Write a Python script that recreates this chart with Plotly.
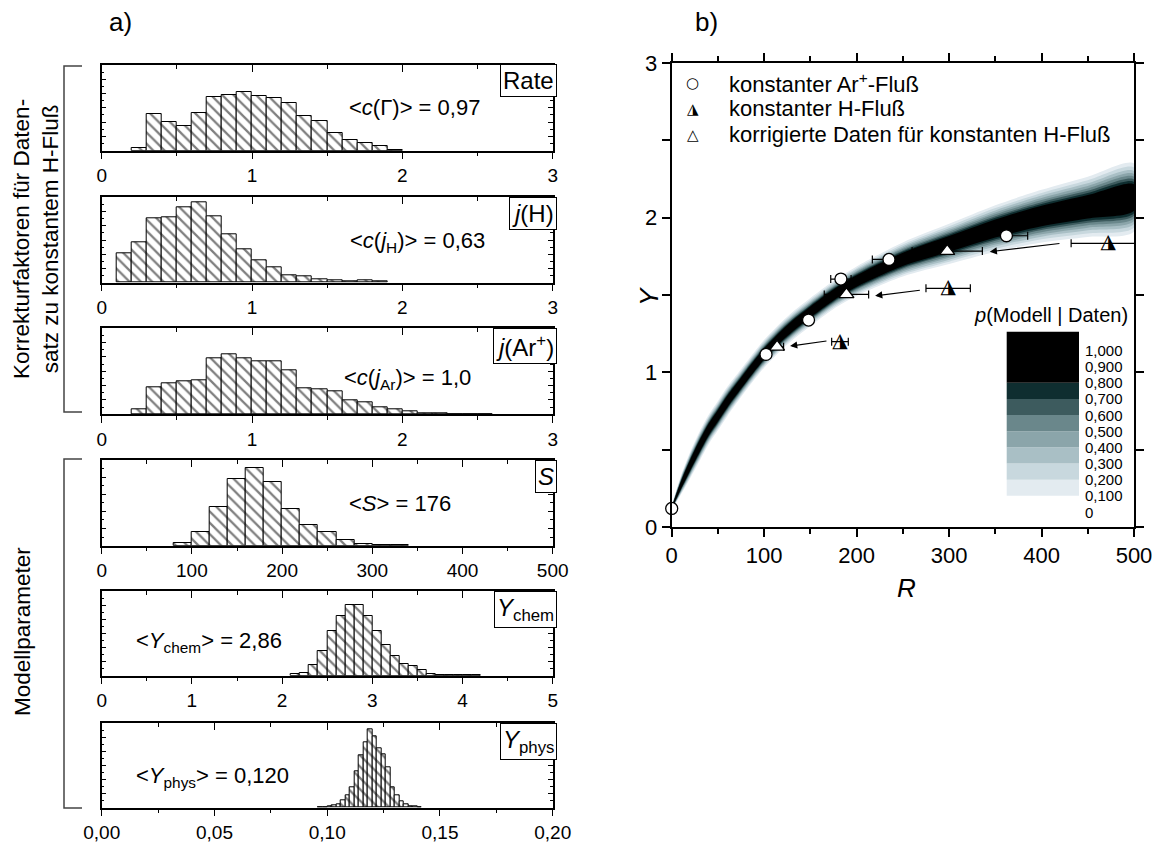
import numpy as np
import plotly.graph_objects as go

W, H = 1160, 842
FONT = "Liberation Sans, Arial, sans-serif"

# ---------------- data: histograms (bin left edges, counts in arbitrary units) ----------------
rate_bins = np.round(np.arange(0.2, 1.95, 0.1), 3)
rate_counts = [7, 109, 87, 75, 113, 161, 166, 175, 163, 159, 142, 103, 90, 54, 33, 22, 13, 1]

jh_bins = np.round(np.arange(0.1, 1.85, 0.1), 3)
jh_counts = [87, 122, 194, 196, 225, 241, 198, 146, 100, 68, 46, 22, 20, 11, 7, 4, 6, 3]

jar_bins = np.round(np.arange(0.2, 2.55, 0.1), 3)
jar_counts = [15, 80, 94, 98, 102, 169, 181, 168, 159, 159, 131, 79, 74, 70, 42, 36, 22, 16, 9, 4, 2, 1, 1, 1]

s_bins = np.arange(80, 330, 20)
s_counts = [9, 40, 117, 201, 233, 190, 111, 61, 40, 17, 4, 2, 2]

ychem_bins = np.round(np.arange(2.1, 4.15, 0.1), 3)
ychem_counts = [4, 7, 31, 73, 133, 179, 211, 211, 179, 134, 92, 60, 36, 28, 17, 4, 2, 1, 1, 2, 1]

yphys_bins = np.round(np.arange(0.096, 0.1405, 0.002), 4)
yphys_counts = [1, 2, 4, 6, 10, 21, 37, 61, 110, 156, 197, 235, 215, 178, 160, 122, 62, 37, 20, 9, 5, 3, 1]

# ---------------- data: right panel ----------------
circ_R = [0, 102, 148, 183, 235, 362]
circ_Y = [0.12, 1.116, 1.338, 1.603, 1.730, 1.883]
circ_err = [0, 5, 5, 11, 18, 23]

half_R = [182, 299, 472]
half_Y = [1.198, 1.543, 1.834]
half_err = [9, 24, 40]

corr_R = [114, 189, 298]
corr_Y = [1.165, 1.504, 1.784]
corr_err = [7, 24, 38]

arrow_tail_R = [169, 270, 421]
arrow_tail_Y = [1.204, 1.532, 1.834]
arrow_head_R = [128, 220, 344]
arrow_head_Y = [1.170, 1.495, 1.780]

band_R = [0, 10, 20, 30, 40, 50, 60, 75, 100, 125, 150, 175, 200, 250, 300, 350, 400, 450, 500]
band_mid = [0.12, 0.27, 0.40, 0.52, 0.63, 0.72, 0.81, 0.93, 1.12, 1.27, 1.39, 1.50, 1.59, 1.73, 1.83, 1.93, 2.01, 2.07, 2.13]
band_half = [0.0, 0.06, 0.085, 0.095, 0.095, 0.095, 0.095, 0.09, 0.09, 0.09, 0.09, 0.09, 0.095, 0.11, 0.13, 0.15, 0.17, 0.195, 0.22]

prob_levels = [0.1, 0.2, 0.3, 0.4, 0.5, 0.6, 0.7, 0.8]
cb_tick_values = [1.0, 0.9, 0.8, 0.7, 0.6, 0.5, 0.4, 0.3, 0.2, 0.1, 0.0]
cb_tick_labels = ["1,000", "0,900", "0,800", "0,700", "0,600", "0,500", "0,400", "0,300", "0,200", "0,100", "0"]

# ---------------- styles ----------------
level_colors = ["#e3ebf0", "#c8d8de", "#a9bfc5", "#8ba5aa", "#6a878b", "#3d5b5e", "#0f2e30", "#000000"]
level_fracs = [1.0, 0.88, 0.78, 0.69, 0.61, 0.53, 0.46, 0.39]


def fx(p):
    return p / W


def fy(p):
    return 1 - p / H


fig = go.Figure()
layout = dict(
    width=W, height=H, margin=dict(l=0, r=0, t=0, b=0, pad=0, autoexpand=False),
    paper_bgcolor="white", plot_bgcolor="white",
    font=dict(family=FONT, color="black"),
    separators=", ", showlegend=False, bargap=0,
)

XL0, XL1 = 101.7, 552.7
panels = [
    dict(bins=rate_bins, counts=rate_counts, w=0.1, xr=[0, 3], dt=1, mdt=0.5, fmt="", top=65, bot=150.7, ymax=257, ny=12),
    dict(bins=jh_bins, counts=jh_counts, w=0.1, xr=[0, 3], dt=1, mdt=0.5, fmt="", top=197.3, bot=282.7, ymax=256, ny=12),
    dict(bins=jar_bins, counts=jar_counts, w=0.1, xr=[0, 3], dt=1, mdt=0.5, fmt="", top=328.3, bot=414.3, ymax=258, ny=12),
    dict(bins=s_bins, counts=s_counts, w=20, xr=[0, 500], dt=100, mdt=50, fmt="", top=460, bot=545.7, ymax=257, ny=10),
    dict(bins=ychem_bins, counts=ychem_counts, w=0.1, xr=[0, 5], dt=1, mdt=0.5, fmt="", top=591, bot=675.7, ymax=254, ny=12),
    dict(bins=yphys_bins, counts=yphys_counts, w=0.002, xr=[0, 0.2], dt=0.05, mdt=0.025, fmt=".2f", top=723.3, bot=807.7, ymax=253, ny=12),
]

for i, p in enumerate(panels, start=1):
    s = "" if i == 1 else str(i)
    fig.add_trace(go.Bar(
        x=p["bins"], y=p["counts"], width=p["w"], offset=0,
        xaxis="x" + s, yaxis="y" + s,
        marker=dict(color="white", line=dict(color="black", width=1),
                    pattern=dict(shape="\\", fgcolor="black", bgcolor="white", size=8, solidity=0.28)),
        hoverinfo="skip",
    ))
    layout["xaxis" + s] = dict(
        domain=[fx(XL0), fx(XL1)], anchor="y" + s, range=p["xr"], dtick=p["dt"], tick0=0,
        ticks="outside", ticklen=7, tickwidth=1.2, tickcolor="black",
        minor=dict(dtick=p["mdt"], tick0=0, ticks="outside", ticklen=4, tickwidth=1.2, tickcolor="black"),
        showline=True, linecolor="black", linewidth=1.5, mirror=True,
        showgrid=False, zeroline=False, tickformat=p["fmt"], automargin=False,
        tickfont=dict(size=19, family=FONT, color="black"),
    )
    layout["yaxis" + s] = dict(
        domain=[fy(p["bot"]), fy(p["top"])], anchor="x" + s, range=[0, p["ymax"]],
        showticklabels=False, ticks="inside", ticklen=5, tickwidth=1, tickcolor="black",
        tick0=0, dtick=p["ymax"] / p["ny"] * 2, automargin=False,
        minor=dict(dtick=p["ymax"] / p["ny"], ticks="inside", ticklen=3, tickwidth=1, tickcolor="black"),
        showline=True, linecolor="black", linewidth=1.5, mirror="ticks",
        showgrid=False, zeroline=False,
    )
    # top axis with inward ticks
    t = str(7 + i)
    layout["xaxis" + t] = dict(
        overlaying="x" + s, side="top", anchor="y" + s, range=p["xr"], dtick=p["dt"], tick0=0,
        ticks="inside", ticklen=7, tickwidth=1.2, tickcolor="black", automargin=False,
        minor=dict(dtick=p["mdt"], tick0=0, ticks="inside", ticklen=4, tickwidth=1.2, tickcolor="black"),
        showticklabels=False, showline=False, showgrid=False, zeroline=False,
    )
    fig.add_trace(go.Scatter(x=[None], y=[None], xaxis="x" + t, yaxis="y" + s, hoverinfo="skip"))

# ---------------- right panel ----------------
mid = np.array(band_mid)
half = np.array(band_half)
for frac, col in zip(level_fracs, level_colors):
    up = mid + frac * half
    lo = mid - frac * half
    fig.add_trace(go.Scatter(
        x=list(band_R) + list(band_R[::-1]), y=list(up) + list(lo[::-1]),
        fill="toself", fillcolor=col, mode="lines",
        line=dict(width=0, color=col, shape="spline", smoothing=0.8),
        xaxis="x7", yaxis="y7", hoverinfo="skip",
    ))

err_style = dict(type="data", color="black", thickness=1.2, width=4)
fig.add_trace(go.Scatter(
    x=half_R, y=half_Y, mode="markers", marker=dict(size=12, color="rgba(0,0,0,0)"),
    error_x=dict(array=half_err, **err_style), xaxis="x7", yaxis="y7", hoverinfo="skip", cliponaxis=False,
))
fig.add_trace(go.Scatter(
    x=half_R, y=half_Y, mode="text", text=["◮"] * len(half_R), textposition="middle center",
    textfont=dict(family="DejaVu Sans", size=20, color="black"),
    xaxis="x7", yaxis="y7", hoverinfo="skip", cliponaxis=False,
))
fig.add_trace(go.Scatter(
    x=corr_R, y=corr_Y, mode="markers",
    marker=dict(symbol="triangle-up", size=13, color="white", line=dict(color="black", width=1.3)),
    error_x=dict(array=corr_err, **err_style), xaxis="x7", yaxis="y7", hoverinfo="skip",
))
fig.add_trace(go.Scatter(
    x=circ_R, y=circ_Y, mode="markers",
    marker=dict(symbol="circle", size=12, color="white", line=dict(color="black", width=1.3)),
    error_x=dict(array=circ_err, **err_style), xaxis="x7", yaxis="y7", hoverinfo="skip", cliponaxis=False,
))

layout["xaxis7"] = dict(
    domain=[fx(671.7), fx(1134)], anchor="y7", range=[0, 500], dtick=100, tick0=0,
    ticks="outside", ticklen=8, tickwidth=2, tickcolor="black", automargin=False,
    minor=dict(dtick=50, ticks="outside", ticklen=5, tickwidth=2, tickcolor="black"),
    showline=True, linecolor="black", linewidth=2, mirror="ticks",
    showgrid=False, zeroline=False, tickfont=dict(size=22, family=FONT, color="black"),
)
layout["yaxis7"] = dict(
    domain=[fy(527), fy(63)], anchor="x7", range=[0, 3], dtick=1, tick0=0,
    ticks="outside", ticklen=8, tickwidth=2, tickcolor="black", automargin=False,
    minor=dict(dtick=0.5, ticks="outside", ticklen=8, tickwidth=2, tickcolor="black"),
    showline=True, linecolor="black", linewidth=2, mirror="ticks",
    showgrid=False, zeroline=False, tickfont=dict(size=22, family=FONT, color="black"),
)

annotations = []
shapes = []


def txt(x, y, text, size, xanchor="center", yanchor="middle", **kw):
    d = dict(x=fx(x), y=fy(y), xref="paper", yref="paper", text=text, showarrow=False,
             xanchor=xanchor, yanchor=yanchor, font=dict(size=size, family=kw.pop("family", FONT), color="black"))
    d.update(kw)
    annotations.append(d)


# arrows
for tr, ty, hr, hy in zip(arrow_tail_R, arrow_tail_Y, arrow_head_R, arrow_head_Y):
    annotations.append(dict(x=hr, y=hy, ax=tr, ay=ty, xref="x7", yref="y7", axref="x7", ayref="y7",
                            showarrow=True, arrowhead=2, arrowsize=1.2, arrowwidth=1.2, arrowcolor="black",
                            text=""))

# panel labels (boxed)
box_labels = ["Rate", "<i>j</i>(H)", "<i>j</i>(Ar<sup>+</sup>)", "<i>S</i>",
              "<i>Y</i><sub>chem</sub>", "<i>Y</i><sub>phys</sub>"]
mean_texts = ["&lt;<i>c</i>(Γ)&gt; = 0,97", "&lt;<i>c</i>(<i>j</i><sub>H</sub>)&gt; = 0,63",
              "&lt;<i>c</i>(<i>j</i><sub>Ar</sub>)&gt; = 1,0", "&lt;<i>S</i>&gt; = 176",
              "&lt;<i>Y</i><sub>chem</sub>&gt; = 2,86", "&lt;<i>Y</i><sub>phys</sub>&gt; = 0,120"]
mean_pos = [(414, 108), (417, 242), (407, 379), (400, 503), (209, 642), (212, 777)]
for p, bl, mt, mp in zip(panels, box_labels, mean_texts, mean_pos):
    txt(557, p["top"] - 0.5, bl, 24, xanchor="right", yanchor="top",
        bordercolor="black", borderwidth=1, borderpad=2, bgcolor="white")
    txt(mp[0], mp[1], mt, 22)

# a) b)
txt(120, 22, "a)", 26)
txt(706, 22, "b)", 26)

# axis titles right panel
txt(906, 588, "<i>R</i>", 26)
txt(649, 297, "<i>Y</i>", 26, textangle=-90)

# legend (manual)
leg_rows = [(83, "○", "konstanter Ar<sup>+</sup>-Fluß"),
            (109, "◮", "konstanter H-Fluß"),
            (135, "△", "korrigierte Daten für konstanten H-Fluß")]
for yy, sym, lab in leg_rows:
    txt(693, yy, sym, 15, family="DejaVu Sans")
    txt(727, yy, lab, 22, xanchor="left")

# color scale
def cb_y(v):
    return 512 - v * 161.6

cb_top_val = 1.115
bounds = prob_levels + [cb_top_val]
for k, col in enumerate(level_colors):
    shapes.append(dict(type="rect", xref="paper", yref="paper",
                       x0=fx(1006.7), x1=fx(1079), y0=fy(cb_y(bounds[k])), y1=fy(cb_y(bounds[k + 1])),
                       fillcolor=col, line=dict(width=0)))
for v, lab in zip(cb_tick_values, cb_tick_labels):
    txt(1083, cb_y(v), lab, 15, xanchor="left")
txt(1130, 315, "<i>p</i>(Modell | Daten)", 20, xanchor="right")

# brackets + side labels
for y0, y1 in [(66, 412), (459, 808)]:
    shapes.append(dict(type="path", xref="paper", yref="paper",
                       path=f"M {fx(82)} {fy(y0)} L {fx(64)} {fy(y0)} L {fx(64)} {fy(y1)} L {fx(82)} {fy(y1)}",
                       line=dict(color="#444444", width=1.5)))
txt(36, 239, "Korrekturfaktoren für Daten-<br>satz zu konstantem H-Fluß", 22.5, textangle=-90)
txt(22, 632, "Modellparameter", 22.5, textangle=-90)

layout["annotations"] = annotations
layout["shapes"] = shapes
fig.update_layout(**layout)
fig.write_html("out.html")
